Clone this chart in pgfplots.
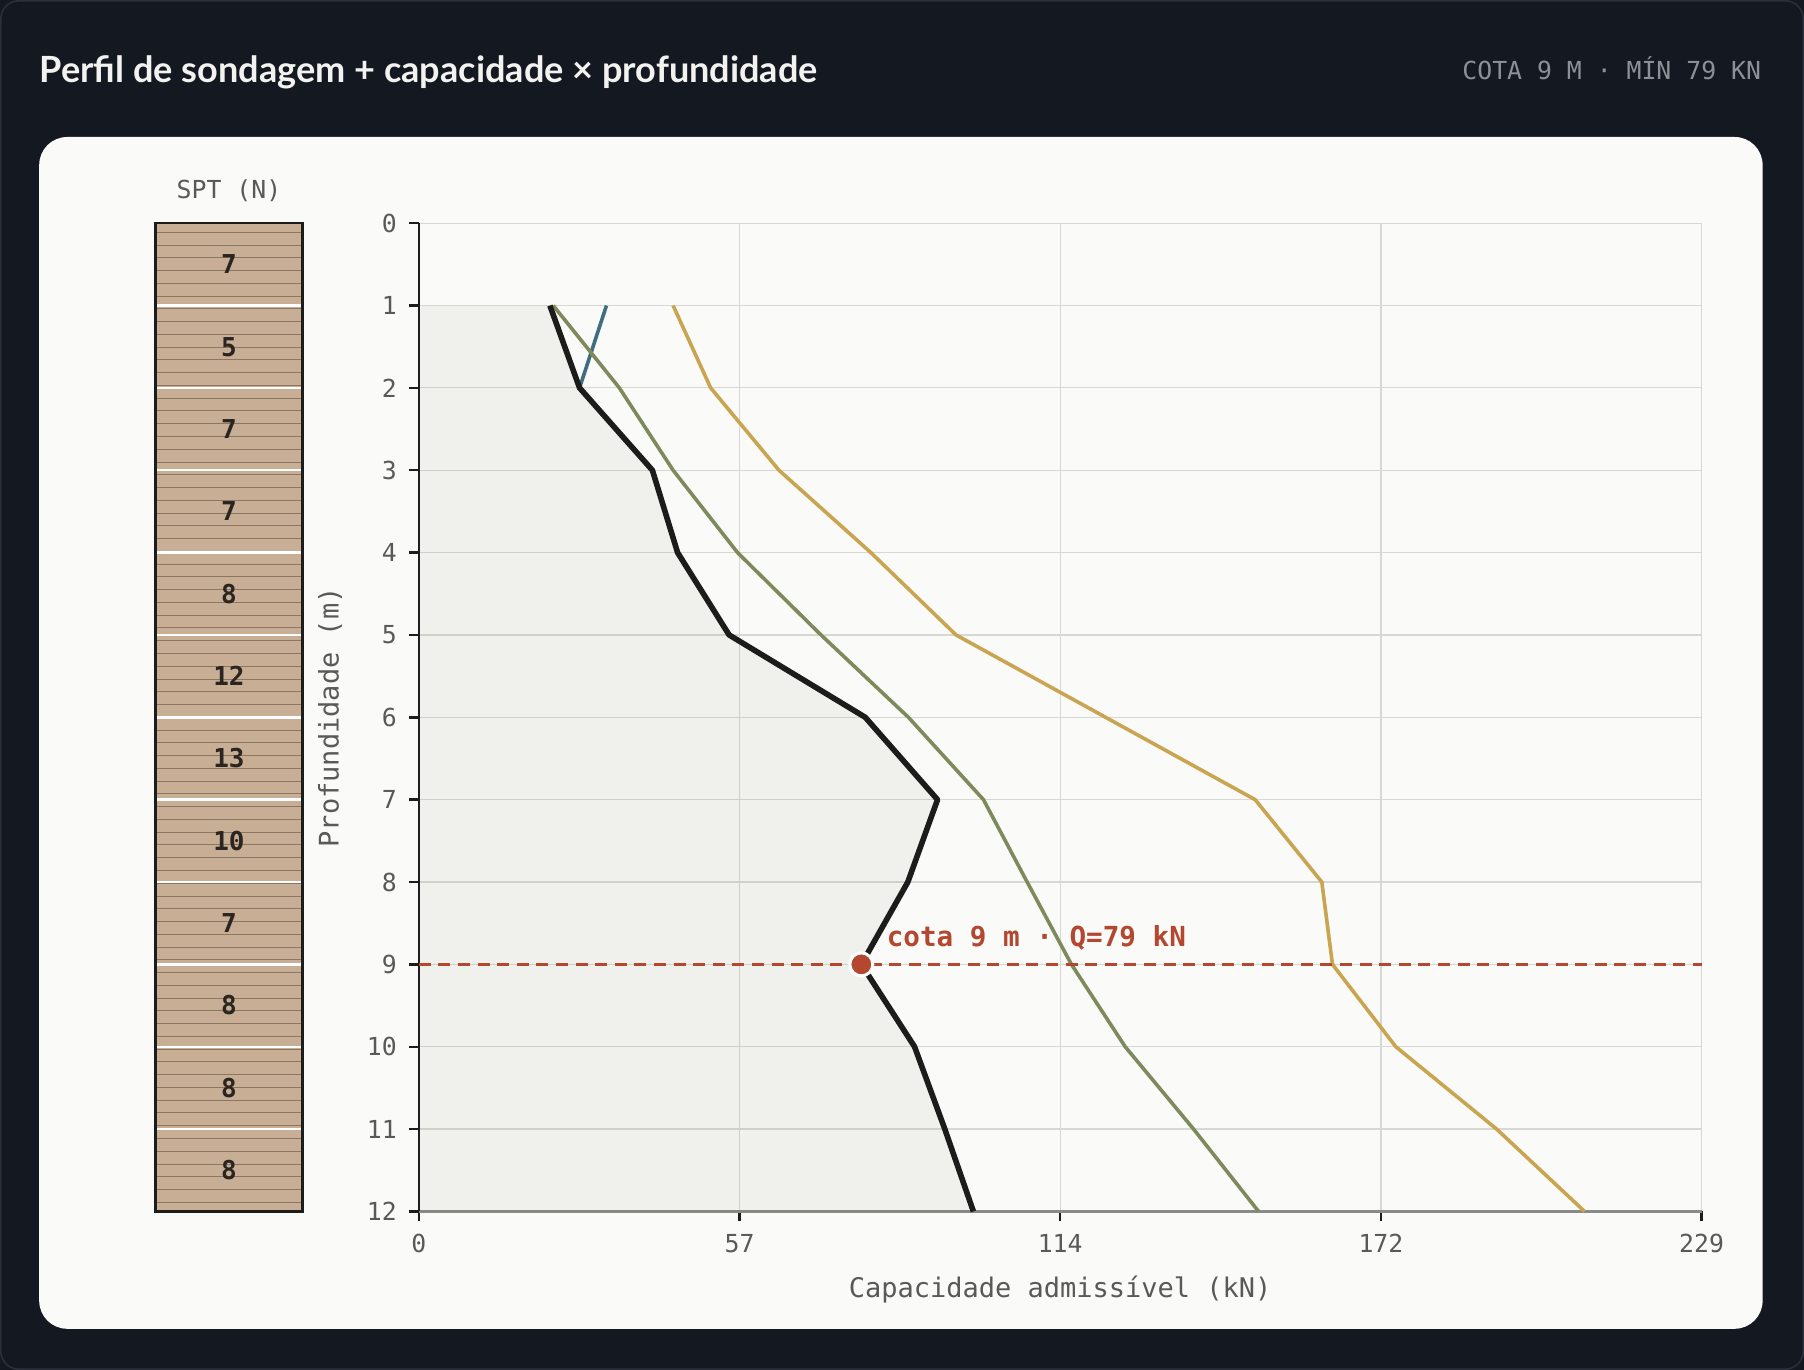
\documentclass[border=0pt]{standalone}
\usepackage{fontspec}
\usepackage{graphicx}
\usepackage{pgfplots}
\pgfplotsset{compat=1.18}
\setmainfont{Lato}
\newfontfamily\mono{DejaVu Sans Mono}
\definecolor{bgdark}{HTML}{141820}
\definecolor{bgborder}{HTML}{2A303B}
\definecolor{card}{HTML}{FAFAF8}
\definecolor{titlec}{HTML}{F2F2F0}
\definecolor{subc}{HTML}{8C9196}
\definecolor{labc}{HTML}{595956}
\definecolor{gridc}{HTML}{D8D8D2}
\definecolor{fillshade}{RGB}{83,83,52}
\definecolor{blackl}{HTML}{1C1C1A}
\definecolor{greenl}{HTML}{7E8A5C}
\definecolor{goldl}{HTML}{C9A552}
\definecolor{bluel}{HTML}{3F6E80}
\definecolor{redl}{HTML}{B3472F}
\definecolor{tan}{HTML}{C8AE94}
\definecolor{hatch}{HTML}{8B7660}
\definecolor{sptnum}{HTML}{2A2520}
\definecolor{axisgray}{HTML}{8A8A86}
\begin{document}
\begin{tikzpicture}
\useasboundingbox (0,0) rectangle (902pt,685pt);
\fill[bgdark] (0,0) rectangle (902pt,685pt);
\draw[bgborder, line width=0.8pt, rounded corners=9pt] (0.4pt,0.4pt) rectangle (901.6pt,684.6pt);
\fill[card, rounded corners=14pt] (19.6pt,20.6pt) rectangle (881.3pt,616.5pt);
\node[anchor=west, text=titlec, inner sep=0] at (19.6pt,648.6pt) {\resizebox{389pt}{!}{\bfseries\fontsize{20}{24}\selectfont Perfil de sondagem + capacidade × profundidade}};
\node[anchor=east, text=subc, inner sep=0] at (880.7pt,650.8pt) {\mono\fontsize{12.4}{15}\selectfont COTA 9 M · MÍN 79 KN};

% SPT column
\begin{axis}[
  at={(77.7pt,79.3pt)}, anchor=south west, scale only axis,
  width=73.6pt, height=494.1pt,
  xmin=0, xmax=1, ymin=0, ymax=12, y dir=reverse,
  xtick=\empty, ytick={1,...,11}, yticklabels={},
  minor ytick={0.11,0.265,...,12},
  grid=both,
  major grid style={draw=white, line width=1.2pt},
  minor grid style={draw=hatch, line width=0.5pt},
  tick style={draw=none},
  axis background/.style={fill=tan},
  axis line style={draw=blackl, line width=1.3pt},
  title={SPT (N)},
  title style={at={(axis description cs:0.5,1)}, anchor=center, yshift=10.4pt, font=\mono\fontsize{12.4}{15}\selectfont, text=labc},
  clip=false,
]
\addplot[draw=none, mark=none, nodes near coords, point meta=explicit symbolic,
  every node near coord/.append style={anchor=center, font=\mono\bfseries\fontsize{13}{15}\selectfont, text=sptnum}]
  table[meta=label] {
x y label
0.5 0.5 7
0.5 1.5 5
0.5 2.5 7
0.5 3.5 7
0.5 4.5 8
0.5 5.5 12
0.5 6.5 13
0.5 7.5 10
0.5 8.5 7
0.5 9.5 8
0.5 10.5 8
0.5 11.5 8
};
\end{axis}

% main axis
\begin{axis}[
  at={(209.4pt,79.3pt)}, anchor=south west, scale only axis,
  width=641.4pt, height=494.1pt,
  xmin=0, xmax=229, ymin=0, ymax=12, y dir=reverse,
  xtick={0,57.25,114.5,171.75,229}, xticklabels={0,57,114,172,229},
  ytick={0,1,...,12},
  grid=major, grid style={draw=gridc, line width=0.6pt},
  axis x line*=bottom, axis y line*=left,
  x axis line style={draw=axisgray, line width=1.6pt},
  y axis line style={draw=blackl, line width=1.2pt},
  tick align=outside, major tick length=5pt,
  tick style={draw=blackl, line width=1.2pt},
  /pgf/number format/assume math mode=true,
  tick label style={font=\mono\fontsize{12.4}{15}\selectfont, text=labc},
  yticklabel style={xshift=-2.5pt},
  xticklabel style={yshift=-3pt},
  xlabel={Capacidade admissível (kN)},
  ylabel={Profundidade (m)},
  every axis x label/.style={at={(axis description cs:0.5,0)}, anchor=center, yshift=-39.2pt, font=\mono\fontsize{13.5}{16}\selectfont, text=labc},
  every axis y label/.style={at={(axis description cs:-0.0691,0.5)}, anchor=center, rotate=90, font=\mono\fontsize{13.5}{16}\selectfont, text=labc},
  clip=false,
]
\addplot[fill=fillshade, fill opacity=0.06, draw=none] coordinates {(0,1) (23.4,1) (28.7,2) (41.7,3) (46.2,4) (55.4,5) (79.7,6) (92.6,7) (87.3,8) (79.0,9) (88.5,10) (93.9,11) (99.0,12) (0,12)};
\addplot[bluel, line width=1.8pt, mark=none] coordinates {(33.5,1) (28.7,2)};
\addplot[greenl, line width=1.8pt, mark=none] coordinates {(24.0,1) (35.8,2) (45.4,3) (56.9,4) (71.8,5) (87.4,6) (100.8,7) (108.6,8) (116.5,9) (126.1,10) (138.3,11) (149.9,12)};
\addplot[goldl, line width=1.8pt, mark=none] coordinates {(45.4,1) (52.1,2) (64.3,3) (80.7,4) (95.9,5) (122.6,6) (149.3,7) (161.2,8) (163.1,9) (174.4,10) (192.4,11) (208.1,12)};
\addplot[blackl, line width=2.8pt, mark=none, line join=round] coordinates {(23.4,1) (28.7,2) (41.7,3) (46.2,4) (55.4,5) (79.7,6) (92.6,7) (87.3,8) (79.0,9) (88.5,10) (93.9,11) (99.0,12)};
\addplot[redl, line width=1.5pt, dash pattern=on 6pt off 3.8pt, mark=none] coordinates {(0,9) (229,9)};
\addplot[only marks, mark=*, mark size=5.75pt, mark options={fill=redl, draw=white, line width=1.5pt},
  nodes near coords, point meta=explicit symbolic,
  every node near coord/.append style={anchor=west, inner sep=0pt, xshift=12pt, yshift=13pt, font=\mono\bfseries\fontsize{13.8}{16}\selectfont, text=redl}]
  coordinates {(79.0,9) [cota 9 m · Q=79 kN]};
\end{axis}
\end{tikzpicture}
\end{document}
